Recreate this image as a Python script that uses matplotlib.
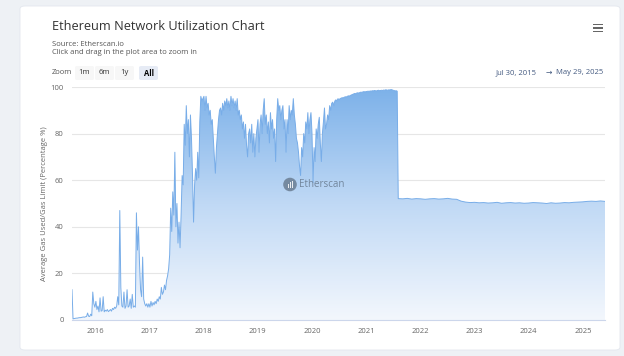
import numpy as np
import pandas as pd
import matplotlib
matplotlib.use("Agg")
import matplotlib.pyplot as plt
import matplotlib.dates as mdates
from matplotlib.colors import LinearSegmentedColormap
from matplotlib.patches import FancyBboxPatch, Circle, Rectangle

plt.rcParams["font.family"] = ["Open Sans", "DejaVu Sans"]

# ------------------------------------------------------------
# Data (weekly samples until the London fork)
# ------------------------------------------------------------
weekly_start = "2015-07-30"

util_2015 = [13, 0.5, 0.6, 0.7, 0.8, 0.8, 0.9, 1.0, 1.0, 1.1, 1.2, 1.3, 1.2, 1.4, 1.5,
             3.0, 1.6, 1.5, 2.5, 1.8, 12, 7]
util_2016 = [5.5, 8, 4.5, 6, 3.5, 9.5, 3.8, 4, 10, 3.5,
             4.2, 3.8, 4.5, 3.6, 4, 4.5, 3.8, 5, 4.5, 5.5,
             5, 6, 10, 6.5, 47, 14, 6, 5.5, 12, 5,
             6, 13, 5.5, 6, 9, 5, 11, 5.5, 6, 5.5,
             46, 30, 40, 24, 13, 10, 27, 9, 7, 6,
             7, 5.5]
util_2017 = [7, 5.5, 8, 6, 7.5, 6.5, 8, 7, 9, 8,
             10, 9, 14, 11, 12, 15, 13, 17, 19, 22,
             28, 48, 38, 55, 45, 72, 40, 50, 33, 42,
             31, 45, 62, 58, 84, 75, 92, 80, 86, 70,
             88, 78, 62, 42, 58, 65, 60, 72, 61, 85,
             96, 94]
util_2018 = [95, 96, 90, 96, 91, 93, 88, 90, 84, 86,
             78, 70, 63, 74, 80, 86, 90, 91, 88, 93,
             90, 94, 92, 95, 91, 94, 90, 96, 92, 95,
             91, 94, 90, 95, 88, 90, 86, 88, 82, 85,
             78, 84, 75, 70, 80, 82, 76, 84, 72, 80,
             70, 78]
util_2019 = [82, 86, 72, 84, 88, 80, 90, 95, 84, 88,
             80, 85, 76, 89, 82, 86, 78, 82, 68, 86,
             95, 90, 92, 86, 90, 92, 82, 86, 72, 86,
             80, 92, 86, 90, 88, 95, 88, 84, 78, 76,
             72, 66, 62, 74, 70, 80, 76, 85, 82, 89,
             80, 86, 89]
util_2020 = [80, 59, 74, 68, 82, 78, 84, 87, 76, 68,
             80, 85, 91, 82, 84, 88, 86, 92, 90, 93,
             93.5, 92, 94, 94.5, 94, 95, 94.5, 95,
             95.2, 95.4, 95.3, 95.6, 95.8, 95.7, 96.0, 96.2, 96.1, 96.4, 96.6, 96.8,
             97.0, 97.2, 97.1, 97.4, 97.5, 97.4, 97.6, 97.8, 97.7, 97.9, 98.0, 97.9]
util_2021 = [98.0, 98.1, 98.2, 98.1, 98.3, 98.2, 98.4, 98.3, 98.5, 98.4,
             98.3, 98.5, 98.6, 98.4, 98.5, 98.6, 98.5, 98.7, 98.6, 98.8,
             98.7, 98.6, 98.8, 98.7, 98.9, 98.8, 98.6, 98.5, 98.3, 98.4,
             98.2]

# after EIP-1559 (Aug 5, 2021) until May 29, 2025, roughly monthly
post_start, post_end = "2021-08-05", "2025-05-29"
util_post = [52.1, 52.0, 52.2, 51.9, 52.1, 52.0, 51.8, 52.0, 52.1, 51.9,
             52.0, 52.2, 51.9, 51.8, 51.0, 50.6, 50.4, 50.5, 50.3, 50.4,
             50.2, 50.3, 50.5, 50.1, 50.3, 50.4, 50.2, 50.3, 50.1, 50.2,
             50.4, 50.3, 50.2, 50.0, 50.3, 50.1, 50.2, 50.4, 50.3, 50.5,
             50.6, 50.7, 50.9, 51.0, 50.9, 51.1, 50.9]

year_ticks = list(range(2016, 2026))
y_ticks = [0, 20, 40, 60, 80, 100]

weekly_vals = util_2015 + util_2016 + util_2017 + util_2018 + util_2019 + util_2020 + util_2021
weekly_dates = pd.date_range(weekly_start, periods=len(weekly_vals), freq="7D")
post_dates = pd.date_range(post_start, post_end, periods=len(util_post))

dates = list(weekly_dates) + list(post_dates)
vals = np.array(weekly_vals + util_post, dtype=float)
x = mdates.date2num(dates)

# ------------------------------------------------------------
# Figure + card
# ------------------------------------------------------------
W, H = 624, 356
fig = plt.figure(figsize=(W / 100, H / 100), dpi=100)
fig.patch.set_facecolor("#eef1f5")

def fx(px):
    return px / W

def fy(py):
    return 1 - py / H

card = FancyBboxPatch((fx(20), fy(350)), fx(600), (350 - 6) / H,
                      boxstyle="round,pad=0,rounding_size=0.008",
                      transform=fig.transFigure, facecolor="white",
                      edgecolor="#e3e7ee", linewidth=0.6, zorder=0)
fig.add_artist(card)

ax = fig.add_axes([fx(72), fy(320), 533 / W, 233 / H])
ax.set_facecolor("none")

# gradient area
poly = ax.fill_between(x, vals, 0, color="none", linewidth=0)
cmap = LinearSegmentedColormap.from_list("area", ["#f3f7fd", "#c0d9f5", "#7cb1e9"])
grad = np.linspace(0, 1, 256).reshape(-1, 1)
im = ax.imshow(grad, extent=[x[0], x[-1], 0, 100], origin="lower",
               aspect="auto", cmap=cmap, zorder=1)
im.set_clip_path(poly.get_paths()[0], transform=ax.transData)
ax.plot(x, vals, color="#78ade8", linewidth=0.7, zorder=2)

ax.set_xlim(x[0], x[-1])
ax.set_ylim(0, 100)
ax.set_yticks(y_ticks)
ax.set_xticks(mdates.date2num([pd.Timestamp(f"{y}-01-01") for y in year_ticks]))
ax.set_xticklabels([str(y) for y in year_ticks])
ax.tick_params(axis="both", length=0, labelsize=5.5, colors="#666666")
ax.tick_params(axis="y", pad=6)
ax.tick_params(axis="x", pad=6)
ax.grid(axis="y", color="#e6e6e6", linewidth=0.8, zorder=0)
ax.set_axisbelow(True)
for s in ["top", "right", "left"]:
    ax.spines[s].set_visible(False)
ax.spines["bottom"].set_color("#ccd6eb")
ax.spines["bottom"].set_linewidth(0.8)
ax.set_ylabel("Average Gas Used/Gas Limit (Percentage %)", fontsize=5.5,
              color="#666666", labelpad=2)

# watermark (logo circle with bars + name)
logo = Circle((2.90, 3.56 - 1.845), 0.068, transform=fig.dpi_scale_trans,
              facecolor="#66788c", alpha=0.8, edgecolor="none", zorder=5)
fig.add_artist(logo)
for bx, bh in [(2.875, 0.04), (2.895, 0.055), (2.915, 0.07)]:
    fig.add_artist(Rectangle((bx, 3.56 - 1.875), 0.011, bh,
                             transform=fig.dpi_scale_trans, facecolor="white",
                             alpha=0.85, edgecolor="none", zorder=6))
fig.text(fx(299.5), fy(184.5), "Etherscan", fontsize=7, color="#66788c", alpha=0.85,
         va="center", ha="left", zorder=5)

# header texts
fig.text(fx(52), fy(26), "Ethereum Network Utilization Chart", fontsize=9.2,
         color="#333333", va="center", ha="left")
fig.text(fx(52), fy(44), "Source: Etherscan.io", fontsize=5.5, color="#555555",
         va="center", ha="left")
fig.text(fx(52), fy(52.5), "Click and drag in the plot area to zoom in", fontsize=5.5,
         color="#555555", va="center", ha="left")

# range selector buttons
fig.text(fx(52), fy(73), "Zoom", fontsize=5.5, color="#555555", va="center", ha="left")
buttons = ["1m", "6m", "1y", "All"]
btn_x = [75, 95, 115, 139]
for label, bx in zip(buttons, btn_x):
    active = label == "All"
    fig.add_artist(FancyBboxPatch((fx(bx), fy(80)), fx(19), 14 / H,
                                  boxstyle="round,pad=0,rounding_size=0.004",
                                  transform=fig.transFigure,
                                  facecolor="#e6ebf5" if active else "#f7f7f7",
                                  edgecolor="none"))
    fig.text(fx(bx + 9.5), fy(73), label, fontsize=5.5,
             color="#000000" if active else "#333333",
             fontweight="bold" if active else "normal", va="center", ha="center")

fig.text(fx(537), fy(73), "Jul 30, 2015", fontsize=5.5, color="#445a80",
         va="center", ha="right")
fig.text(fx(549), fy(73), "\u2192", fontsize=5.5, color="#445a80",
         va="center", ha="center")
fig.text(fx(603), fy(73), "May 29, 2025", fontsize=5.5, color="#445a80",
         va="center", ha="right")

# hamburger menu
for yy in [24.5, 28, 31.5]:
    fig.add_artist(Rectangle((fx(593), fy(yy + 0.9)), fx(10), 1.8 / H,
                             transform=fig.transFigure, facecolor="#666666",
                             edgecolor="none"))

fig.savefig("out.png", dpi=100)
